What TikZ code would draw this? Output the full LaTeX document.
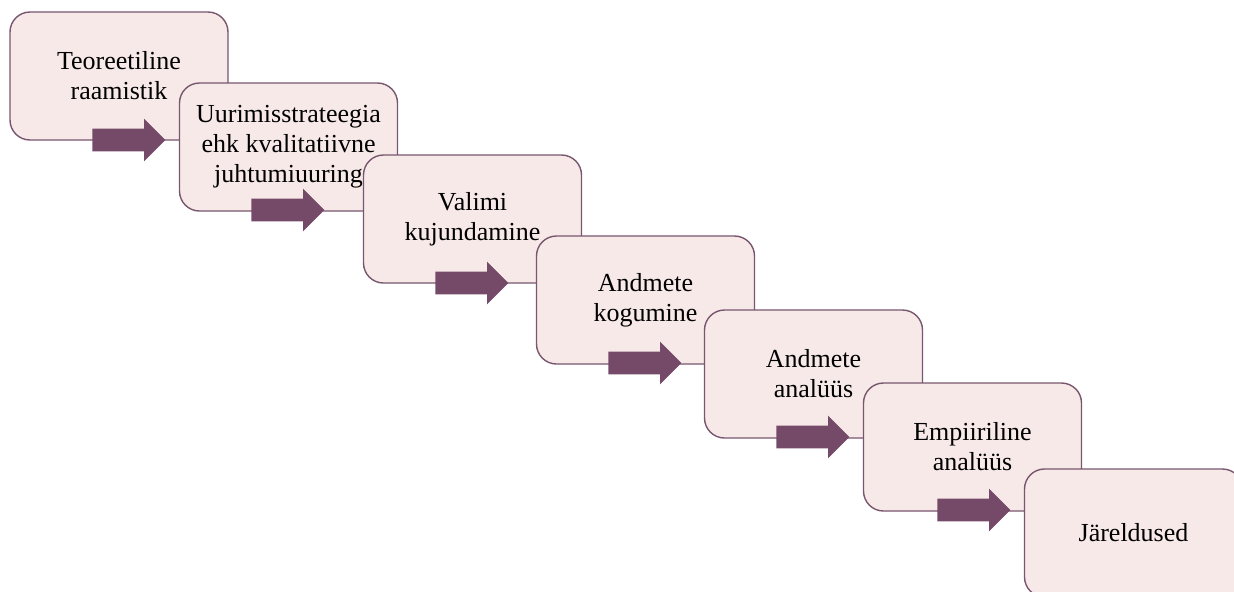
\documentclass[tikz,border=0pt]{standalone}
\usepackage{fontspec}
\setmainfont{Liberation Serif}
\usetikzlibrary{shapes.arrows}

\definecolor{boxfill}{RGB}{248,233,233}
\definecolor{boxline}{RGB}{120,86,110}
\definecolor{arrowfill}{RGB}{116,74,104}

\tikzset{
    stage/.style={draw=boxline, fill=boxfill, line width=0.7pt, rounded corners=10pt,
        minimum width=109pt, minimum height=64pt, inner sep=0pt, align=center,
        font=\fontsize{13}{15}\selectfont},
    flow/.style={single arrow, fill=arrowfill, draw=none, inner sep=0pt, anchor=west,
        text height=5.5pt, text depth=5.5pt, minimum height=36.5pt,
        single arrow head extend=5pt, single arrow head indent=0pt}
}

\begin{document}
\begin{tikzpicture}[x=0.5pt, y=-0.5pt]
            \useasboundingbox (0,0) rectangle (1234,591);
            \clip (0,0) rectangle (1234,591);

            \node[stage] (teooria) at (119,76) {Teoreetiline\\raamistik};
            \node[flow] (n1) at (92,140) {};

            \node[stage] (strateegia) at (288.5,147) {Uurimisstrateegia\\ehk kvalitatiivne\\juhtumiuuring};
            \node[flow] (n2) at (251,210) {};

            \node[stage] (valim) at (472.5,219) {Valimi\\kujundamine};
            \node[flow] (n3) at (435,283) {};

            \node[stage] (kogumine) at (645.5,300) {Andmete\\kogumine};
            \node[flow] (n4) at (608,363) {};

            \node[stage] (analyys) at (813.5,374) {Andmete\\anal\"u\"us};
            \node[flow] (n5) at (776,437) {};

            \node[stage] (empiiria) at (972.5,447) {Empiiriline\\anal\"u\"us};
            \node[flow] (n6) at (937,510) {};

            \node[stage] (jareldused) at (1133.5,533) {J\"areldused};
        \end{tikzpicture}
\end{document}
